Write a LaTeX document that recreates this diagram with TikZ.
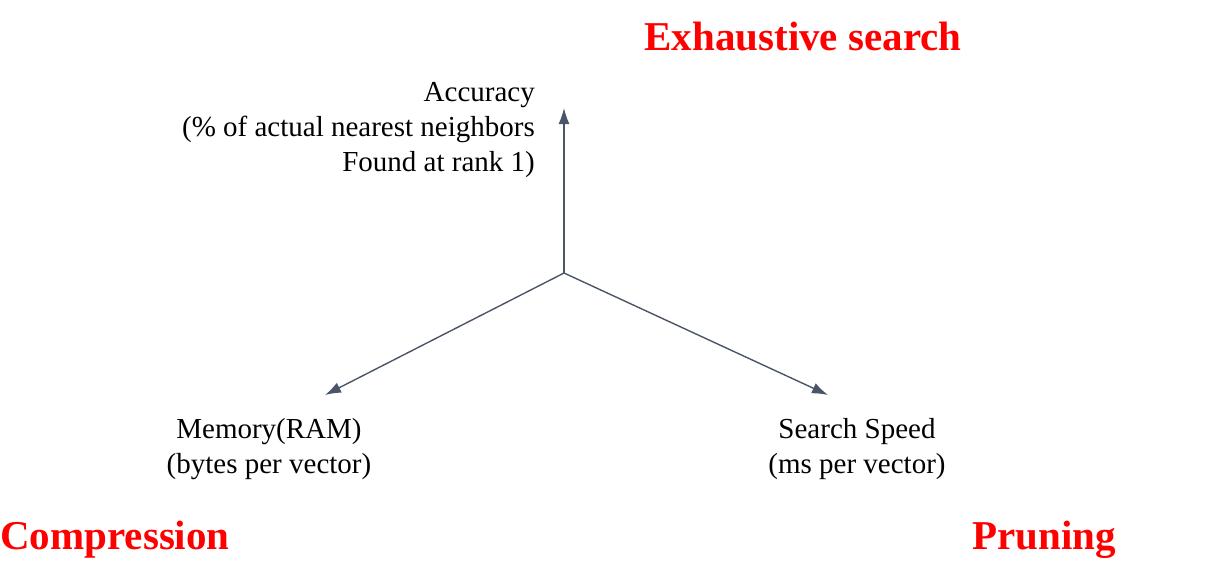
\documentclass[tikz,border=0pt]{standalone}
\usepackage{fontspec}
\setmainfont{Liberation Serif}
\usetikzlibrary{arrows.meta}
\definecolor{axisc}{HTML}{4A5568}
\definecolor{redc}{HTML}{FF0000}
\begin{document}
\begin{tikzpicture}[x=1pt,y=-1pt,
  axis/.style={draw=axisc,line width=1.4pt,-{Latex[length=16pt,width=11pt]}},
  lbl/.style={font=\fontsize{29}{35}\selectfont,text=black,inner sep=0pt,align=center},
  big/.style={font=\fontsize{41}{44}\selectfont\bfseries,text=redc,inner sep=0pt}]
\useasboundingbox (0,0) rectangle (1229,576);
\coordinate (o) at (564,273);
\coordinate (up) at (564,108);
\coordinate (lf) at (325,395);
\coordinate (rt) at (828,395);
\draw[axis] (o) -- (up);
\draw[axis] (o) -- (lf);
\draw[axis] (o) -- (rt);
\node[lbl,align=right,anchor=north east] (acc) at (535,82) {Accuracy\\(\% of actual nearest neighbors\\Found at rank 1)};
\node[lbl] (mem) at (269,449) {Memory(RAM)\\(bytes per vector)};
\node[lbl] (spd) at (857,449) {Search Speed\\(ms per vector)};
\node[big] (ex) at (803,37) {Exhaustive search};
\node[big] (cmp) at (115,540) {Compression};
\node[big] (pr) at (1044,540) {Pruning};
\end{tikzpicture}
\end{document}
